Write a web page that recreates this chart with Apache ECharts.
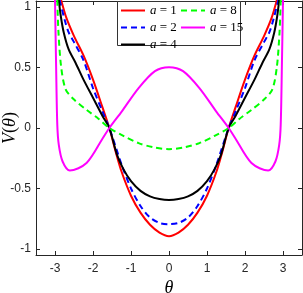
<!DOCTYPE html>
<html>
<head>
<meta charset="utf-8">
<script src="https://cdn.jsdelivr.net/npm/echarts@6/dist/echarts.min.js"></script>
<style>html,body{margin:0;padding:0;background:#fff}#c{width:303px;height:293px}</style>
</head>
<body>
<div id="c"></div>
<script>
// ---- data ----
var xTicks = [-3, -2, -1, 0, 1, 2, 3];
var yTicks = [-1, -0.5, 0, 0.5, 1];
var seriesNames = ['1', '2', '4', '8', '15'];
var seriesColors = ['#ff0000', '#0000ff', '#000000', '#00ff00', '#ff00ff'];
var seriesDash = ['solid', 'dashed', 'solid', 'dashed', 'solid'];

var thetaA1 = [-2.84, -2.7, -2.5, -2.25, -2.0, -1.75, -1.57, -1.4, -1.25, -1.0, -0.75, -0.5, -0.25, 0, 0.25, 0.5, 0.75, 1.0, 1.25, 1.4, 1.57, 1.75, 2.0, 2.25, 2.5, 2.7, 2.84];
var vA1 = [1.06, 0.91, 0.76, 0.60, 0.40, 0.17, 0, -0.20, -0.36, -0.56, -0.70, -0.80, -0.865, -0.894, -0.865, -0.80, -0.70, -0.56, -0.36, -0.20, 0, 0.17, 0.40, 0.60, 0.76, 0.91, 1.06];

var thetaA2 = [-2.88, -2.75, -2.64, -2.5, -2.25, -2.0, -1.75, -1.57, -1.25, -1.0, -0.75, -0.5, -0.25, 0, 0.25, 0.5, 0.75, 1.0, 1.25, 1.57, 1.75, 2.0, 2.25, 2.5, 2.64, 2.75, 2.88];
var vA2 = [1.06, 0.90, 0.79, 0.71, 0.56, 0.33, 0.135, 0, -0.30, -0.50, -0.645, -0.74, -0.785, -0.795, -0.785, -0.74, -0.645, -0.50, -0.30, 0, 0.135, 0.33, 0.56, 0.71, 0.79, 0.90, 1.06];

var thetaA4 = [-2.90, -2.85, -2.77, -2.64, -2.46, -2.25, -2.0, -1.75, -1.57, -1.37, -1.2, -1.0, -0.75, -0.5, -0.25, 0, 0.25, 0.5, 0.75, 1.0, 1.2, 1.37, 1.57, 1.75, 2.0, 2.25, 2.46, 2.64, 2.77, 2.85, 2.90];
var vA4 = [1.06, 0.93, 0.79, 0.65, 0.54, 0.40, 0.25, 0.10, 0, -0.22, -0.34, -0.44, -0.52, -0.565, -0.587, -0.595, -0.587, -0.565, -0.52, -0.44, -0.34, -0.22, 0, 0.10, 0.25, 0.40, 0.54, 0.65, 0.79, 0.93, 1.06];

var thetaA8 = [-2.94, -2.91, -2.84, -2.72, -2.5, -2.17, -1.85, -1.57, -1.2, -0.8, -0.4, 0, 0.4, 0.8, 1.2, 1.57, 1.85, 2.17, 2.5, 2.72, 2.84, 2.91, 2.94];
var vA8 = [1.06, 0.80, 0.51, 0.32, 0.235, 0.15, 0.075, 0, -0.065, -0.125, -0.16, -0.175, -0.16, -0.125, -0.065, 0, 0.075, 0.15, 0.235, 0.32, 0.51, 0.80, 1.06];

var thetaA15 = [-3.0, -2.97, -2.94, -2.90, -2.80, -2.61, -2.17, -1.74, -1.57, -1.24, -0.80, -0.37, 0, 0.37, 0.80, 1.24, 1.57, 1.74, 2.17, 2.61, 2.80, 2.90, 2.94, 2.97, 3.0];
var vA15 = [1.06, 0.50, 0.03, -0.14, -0.277, -0.352, -0.29, -0.083, 0, 0.138, 0.33, 0.47, 0.503, 0.47, 0.33, 0.138, 0, -0.083, -0.29, -0.352, -0.277, -0.14, 0.03, 0.50, 1.06];

var thetas = [thetaA1, thetaA2, thetaA4, thetaA8, thetaA15];
var values = [vA1, vA2, vA4, vA8, vA15];

function pairs(xs, ys) { return xs.map(function (x, i) { return [x, ys[i]]; }); }

var axisColor = '#262626';
var series = seriesNames.map(function (n, k) {
  return {
    name: n, type: 'line', data: pairs(thetas[k], values[k]),
    showSymbol: false, symbol: 'none', smooth: 0.3, clip: true,
    lineStyle: { color: seriesColors[k], width: 2, type: seriesDash[k] === 'dashed' ? [6, 4] : 'solid' },
    itemStyle: { color: seriesColors[k] }, z: 2 + k
  };
});

function legendFmt(name) { return '{i|a} = ' + name; }
var legendCommon = {
  orient: 'vertical', itemWidth: 24, itemHeight: 10, itemGap: 4, z: 10,
  formatter: legendFmt, padding: 0, selectedMode: false,
  itemStyle: { opacity: 0 },
  textStyle: { fontFamily: 'Liberation Serif', fontSize: 13, color: '#000', rich: { i: { fontFamily: 'Liberation Serif', fontStyle: 'italic', fontSize: 13 } } }
};

var chart = echarts.init(document.getElementById('c'), null, { renderer: 'canvas' });
chart.setOption({
  animation: false,
  grid: { left: 36, right: 1, top: 1, bottom: 38, outerBoundsMode: 'none' },
  xAxis: [{
    type: 'value', min: -3.5, max: 3.5, position: 'bottom',
    axisLine: { onZero: false, lineStyle: { color: axisColor, width: 1 } },
    axisTick: { inside: true, length: 4, customValues: xTicks, lineStyle: { color: axisColor } },
    axisLabel: { customValues: xTicks, margin: 8, fontFamily: 'Liberation Sans', fontSize: 12, color: axisColor },
    splitLine: { show: false },
    name: 'θ', nameLocation: 'middle', nameGap: 24, nameMoveOverlap: false,
    nameTextStyle: { fontFamily: 'Liberation Serif', fontStyle: 'italic', fontSize: 18, color: '#000' }
  }, {
    type: 'value', min: -3.5, max: 3.5, position: 'top',
    axisLine: { onZero: false, lineStyle: { color: axisColor, width: 1 } },
    axisTick: { inside: true, length: 4, customValues: xTicks, lineStyle: { color: axisColor } },
    axisLabel: { show: false }, splitLine: { show: false }
  }],
  yAxis: [{
    type: 'value', min: -1.05, max: 1.05, position: 'left',
    axisLine: { show: true, onZero: false, lineStyle: { color: axisColor, width: 1 } },
    axisTick: { show: true, inside: true, length: 4, customValues: yTicks, lineStyle: { color: axisColor } },
    axisLabel: { customValues: yTicks, margin: 5, fontFamily: 'Liberation Sans', fontSize: 12, color: axisColor },
    splitLine: { show: false },
    name: '{i|V}({i|θ})', nameLocation: 'middle', nameGap: 17, nameRotate: 90, nameMoveOverlap: false,
    nameTextStyle: { fontFamily: 'Liberation Serif', fontSize: 18, color: '#000', rich: { i: { fontFamily: 'Liberation Serif', fontStyle: 'italic', fontSize: 18 } } }
  }, {
    type: 'value', min: -1.05, max: 1.05, position: 'right',
    axisLine: { show: true, onZero: false, lineStyle: { color: axisColor, width: 1 } },
    axisTick: { show: true, inside: true, length: 4, customValues: yTicks, lineStyle: { color: axisColor } },
    axisLabel: { show: false }, splitLine: { show: false }
  }],
  legend: [
    Object.assign({}, legendCommon, { data: ['1', '2', '4'], left: 120, top: 4 }),
    Object.assign({}, legendCommon, { data: ['8', '15'], left: 180, top: 4 })
  ],
  graphic: [{
    type: 'rect', z: 9, left: 117, top: 1,
    shape: { width: 123, height: 44 },
    style: { fill: '#fff', stroke: '#333', lineWidth: 1 }
  }],
  series: series
});
</script>
</body>
</html>
